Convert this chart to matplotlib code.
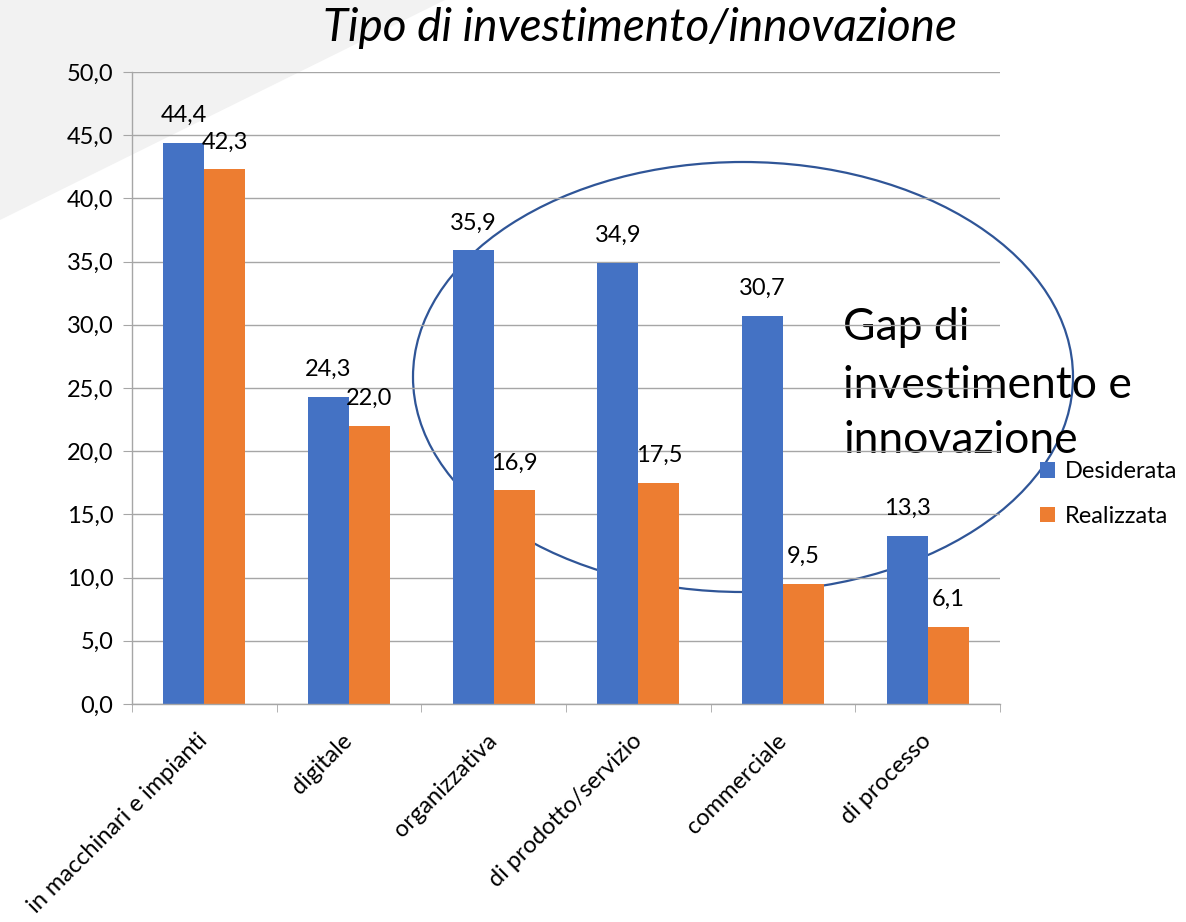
import numpy as np
import matplotlib.pyplot as plt
from matplotlib.patches import Ellipse, Polygon
from matplotlib.ticker import FuncFormatter

categorie = ["in macchinari e impianti", "digitale", "organizzativa",
             "di prodotto/servizio", "commerciale", "di processo"]
desiderata = [44.4, 24.3, 35.9, 34.9, 30.7, 13.3]
realizzata = [42.3, 22.0, 16.9, 17.5, 9.5, 6.1]

plt.rcParams['font.family'] = ['Lato', 'DejaVu Sans']

W, H = 1186, 922
fig = plt.figure(figsize=(W / 100, H / 100), dpi=100)

# triangolo grigio dello sfondo della slide
fig.patches.append(Polygon([(0, 1), (445 / W, 1), (0, 1 - 220 / H)], closed=True,
                           transform=fig.transFigure, facecolor='#F2F2F2',
                           edgecolor='none', zorder=-5))

ax = fig.add_axes([132 / W, 1 - 704 / H, (1000 - 132) / W, (704 - 72) / H])
ax.set_facecolor('none')

x = np.arange(len(categorie))
w = 0.283
b1 = ax.bar(x - w / 2, desiderata, w, color='#4472C4', label='Desiderata', zorder=2)
b2 = ax.bar(x + w / 2, realizzata, w, color='#ED7D31', label='Realizzata', zorder=2)

fmt = lambda v: f"{v:.1f}".replace('.', ',')
ax.bar_label(b1, labels=[fmt(v) for v in desiderata], padding=12, fontsize=17)
ax.bar_label(b2, labels=[fmt(v) for v in realizzata], padding=12, fontsize=17)

ax.set_ylim(0, 50)
ax.set_xlim(-0.5, len(categorie) - 0.5)
ax.set_yticks(np.arange(0, 51, 5))
ax.yaxis.set_major_formatter(FuncFormatter(lambda v, p: fmt(v)))
ax.grid(axis='y', color='#A6A6A6', linewidth=1)
ax.set_axisbelow(True)
for s in ['top', 'right']:
    ax.spines[s].set_visible(False)
for s in ['left', 'bottom']:
    ax.spines[s].set_color('#A6A6A6')
    ax.spines[s].set_linewidth(1)
ax.tick_params(axis='y', length=6.5, color='#A6A6A6', labelsize=17, pad=7)

ax.set_xticks(x)
ax.set_xticklabels(categorie, rotation=45, ha='right', va='center',
                   rotation_mode='anchor', fontsize=17)
ax.tick_params(axis='x', which='major', length=0, pad=24)
ax.set_xticks(np.arange(-0.5, len(categorie), 1), minor=True)
ax.tick_params(axis='x', which='minor', length=6, color='#A6A6A6')

# ellisse del gap
ax.add_patch(Ellipse((743 / W, 1 - 377 / H), 660 / W, 430 / H, transform=fig.transFigure,
                     fill=False, edgecolor='#2F5597', linewidth=1.6, clip_on=False, zorder=0.3))

righe = ["Gap di", "investimento e", "innovazione"]
basi = [340, 398, 453]
for r, yb in zip(righe, basi):
    ax.text(843 / W, 1 - yb / H, r, transform=fig.transFigure, fontsize=32,
            ha='left', va='baseline', zorder=0.3, clip_on=False)

fig.text(640 / W, 1 - 28 / H, "Tipo di investimento/innovazione", ha='center', va='center',
         fontsize=33, style='italic')

fig.legend(handles=[b1, b2], loc='center left', bbox_to_anchor=(1040 / W, 1 - 494 / H),
           frameon=False, fontsize=17, handlelength=0.65, handleheight=0.65,
           handletextpad=0.4, labelspacing=1.0, borderpad=0, borderaxespad=0)

fig.savefig('out.png', dpi=100)
